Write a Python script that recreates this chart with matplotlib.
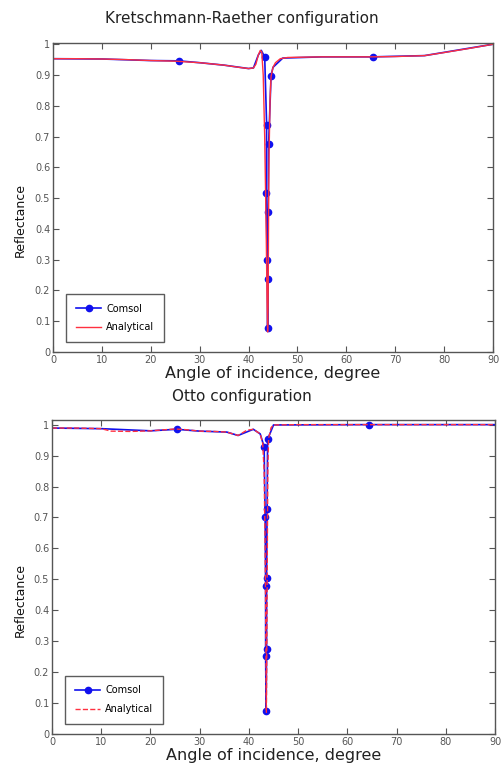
import matplotlib
matplotlib.use("Agg")
import matplotlib.pyplot as plt
from matplotlib.ticker import FormatStrFormatter

# Kretschmann-Raether, analytical curve
kr_angle = [0, 5, 10, 15, 20, 25, 30, 35, 38, 40, 41, 41.5, 42, 42.4, 42.7, 43.0, 43.3,
            43.6, 43.8, 43.9, 44.0, 44.1, 44.2, 44.4, 44.6, 45, 45.5, 46.5, 48, 55, 65,
            70, 76, 80, 85, 90]
kr_anal = [0.953, 0.953, 0.952, 0.950, 0.947, 0.945, 0.940, 0.932, 0.925, 0.921, 0.923,
           0.935, 0.965, 0.980, 0.975, 0.900, 0.700, 0.400, 0.150, 0.065, 0.150, 0.450,
           0.650, 0.820, 0.895, 0.925, 0.940, 0.953, 0.957, 0.959, 0.959, 0.960, 0.963,
           0.973, 0.986, 1.000]

# Kretschmann-Raether, Comsol
kr_com_angle = [0, 10, 20, 25.7, 30, 35, 40, 41, 42, 42.6, 43.3, 43.7, 43.6, 43.8, 43.9,
                44.0, 44.0, 44.1, 44.6, 45, 47, 55, 65.5, 76, 90]
kr_com = [0.953, 0.952, 0.947, 0.946, 0.940, 0.932, 0.921, 0.923, 0.965, 0.980, 0.959,
          0.737, 0.517, 0.299, 0.079, 0.237, 0.455, 0.675, 0.897, 0.925, 0.955, 0.959,
          0.959, 0.963, 1.000]
kr_com_marks = [3, 10, 11, 12, 13, 14, 15, 16, 17, 18, 22]

# Otto, analytical curve
ot_angle = [0, 5, 10, 12, 16, 20, 25, 27, 30, 33, 35.5, 37.8, 39.6, 40.9, 42.3, 42.8, 43.1,
            43.3, 43.45, 43.55, 43.65, 43.75, 43.85, 44.0, 44.5, 45, 50, 90]
ot_anal = [0.989, 0.989, 0.987, 0.979, 0.978, 0.980, 0.986, 0.984, 0.979, 0.978, 0.976,
           0.965, 0.982, 0.985, 0.970, 0.940, 0.850, 0.600, 0.300, 0.070, 0.300, 0.600,
           0.850, 0.955, 0.990, 0.999, 1.000, 1.000]

# Otto, Comsol
ot_com_angle = [0, 10, 20, 25.3, 30, 35.5, 37.8, 40.9, 42.3, 43.1, 43.3, 43.4, 43.4, 43.5,
                43.6, 43.6, 43.7, 43.8, 45, 64.5, 90]
ot_com = [0.989, 0.987, 0.980, 0.985, 0.979, 0.976, 0.965, 0.985, 0.970, 0.928, 0.703,
          0.479, 0.252, 0.075, 0.276, 0.503, 0.728, 0.952, 0.999, 1.000, 1.000]
ot_com_marks = [3, 9, 10, 11, 12, 13, 14, 15, 16, 17, 19]

xticks = list(range(0, 91, 10))
yticks = [i / 10 for i in range(11)]

W, H = 503, 767
fig = plt.figure(figsize=(W / 100, H / 100), dpi=100)


def setup(ax, ytop):
    ax.set_xlim(0, 90)
    ax.set_ylim(0, ytop)
    ax.set_xticks(xticks)
    ax.set_yticks(yticks)
    ax.yaxis.set_major_formatter(FormatStrFormatter('%g'))
    ax.tick_params(direction='in', top=True, right=True, length=4, width=0.8,
                   color='#555555', labelsize=7, labelcolor='#555555', pad=2)
    for s in ax.spines.values():
        s.set_color('#555555')
        s.set_linewidth(1.0)
    ax.set_xlabel('Angle of incidence, degree', fontsize=11.5, color='#222222', labelpad=1)


def draw(ax, ca, cr, marks, aa, ar, ls):
    ax.plot(ca, cr, '-', color='#1010ee', lw=1.2, marker='o', ms=4.5,
            markevery=marks, label='Comsol')
    ax.plot(aa, ar, ls, color='#ff3040', lw=1.0, label='Analytical')
    leg = ax.legend(loc='lower left', bbox_to_anchor=(0.03, 0.032), borderaxespad=0,
                    fontsize=7, fancybox=False, handlelength=2.6, borderpad=1.0,
                    labelspacing=0.9, handletextpad=0.5)
    leg.get_frame().set_edgecolor('#333333')
    leg.get_frame().set_linewidth(1.0)


ax1 = fig.add_axes([53 / W, 1 - 352 / H, 440 / W, 309 / H])
setup(ax1, 1.004)
draw(ax1, kr_com_angle, kr_com, kr_com_marks, kr_angle, kr_anal, '-')

ax2 = fig.add_axes([52 / W, 1 - 734 / H, 443 / W, 314 / H])
setup(ax2, 1.015)
draw(ax2, ot_com_angle, ot_com, ot_com_marks, ot_angle, ot_anal, '--')

fig.text(242 / W, 1 - 18 / H, 'Kretschmann-Raether configuration', ha='center',
         va='center', fontsize=11, color='#222222')
fig.text(242 / W, 1 - 397 / H, 'Otto configuration', ha='center', va='center',
         fontsize=11, color='#222222')
fig.text(20 / W, 1 - 220 / H, 'Reflectance', rotation=90, ha='center', va='center',
         fontsize=9, color='#111111')
fig.text(20 / W, 1 - 600 / H, 'Reflectance', rotation=90, ha='center', va='center',
         fontsize=9, color='#111111')

fig.savefig('out.png', dpi=100)
